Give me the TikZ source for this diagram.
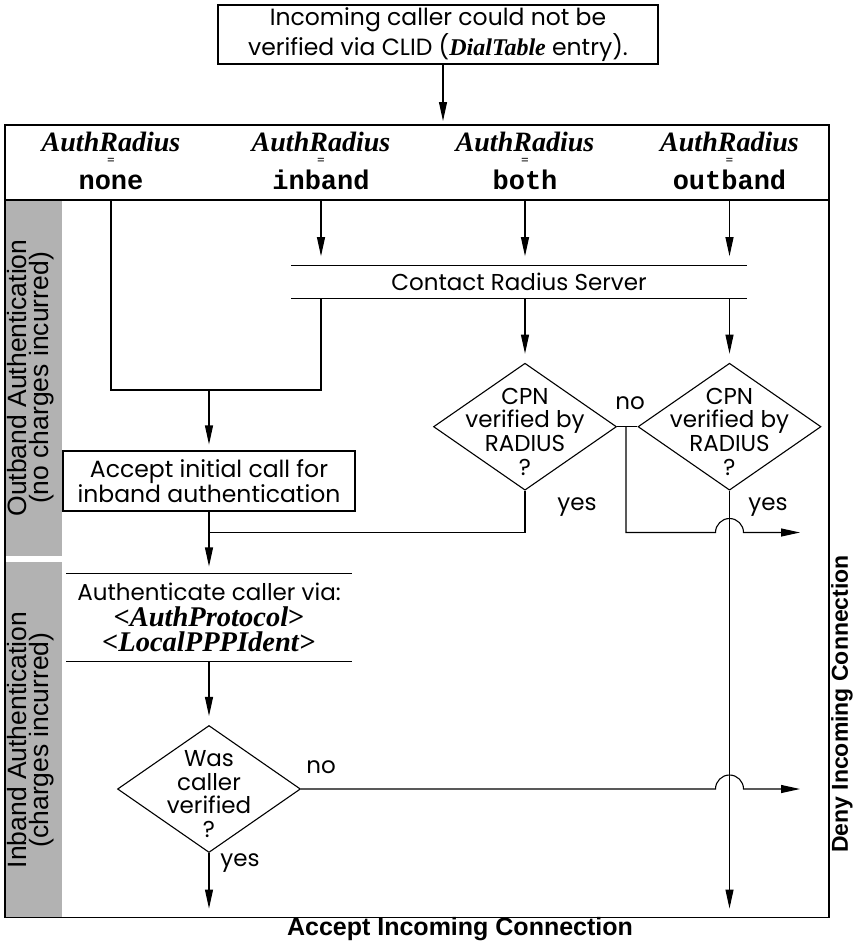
\documentclass[tikz,border=0pt]{standalone}
\usepackage{fontspec}
\setmainfont{Poppins}
\newfontfamily\helv{Liberation Sans}
\newfontfamily\tms{Liberation Serif}
\newfontfamily\cour{Liberation Mono}
\usetikzlibrary{arrows.meta,shapes.geometric,positioning}
\definecolor{barGray}{gray}{0.7}

\begin{document}
\begin{tikzpicture}[y=-1pt,x=1pt,line width=1.1pt,
	>={Triangle[length=19pt,width=8pt]},
	box/.style={draw,align=center,inner sep=0pt,font=\fontsize{23.5}{25}\selectfont},
	store/.style={align=center,inner sep=0pt,font=\fontsize{23}{25.5}\selectfont},
	decision/.style={draw,diamond,inner sep=0pt,minimum width=183pt,minimum height=127pt},
	dtext/.style={align=center,inner sep=0pt,yshift=-5pt,font=\fontsize{23}{23.7}\selectfont},
	small/.style={font=\fontsize{23}{25}\selectfont},
	arad/.style={anchor=base,font=\tms\bfseries\itshape\fontsize{28}{28}\selectfont},
	eqs/.style={inner sep=0pt,font=\fontsize{12}{12}\selectfont},
	val/.style={anchor=base,font=\cour\bfseries\fontsize{27}{27}\selectfont},
	side/.style={rotate=90,align=center,font=\helv\fontsize{26.5}{22}\selectfont},
	exit/.style={font=\helv\bfseries\fontsize{24}{28}\selectfont}]
	\newcommand\Setting[3]{%
		\node[arad] (ar#1) at (#2,151.7) {AuthRadius};
		\node[eqs] (eq#1) at (#2,161) {=};
		\node[val] (#1) at (#2,189.5) {#3};}
	\newcommand\DialT{{\tms\bfseries\itshape\fontsize{24}{24}\selectfont DialTable}}
	\newcommand\Ident[1]{{\tms\bfseries\fontsize{28.5}{28.5}\selectfont <\textit{#1}>}}

	\useasboundingbox (0,0) rectangle (858,945);

	\fill[barGray] (5,200) rectangle (62,556);
	\fill[barGray] (5,561.5) rectangle (62,917.5);
	\draw (5,125) rectangle (829,917.5);
	\coordinate (hdr) at (5,200);
	\coordinate (floor) at (5,917.5);
	\coordinate (entry) at (443,125);
	\draw (hdr) -- (829,200);

	\node[box, minimum width=440pt, minimum height=59pt] (start) at (438,34.5) {Incoming caller could not be\\verified via CLID (\DialT{} entry).};
	\draw[->, shorten >=4pt] (entry |- start.south) -- (entry);

	\Setting{sNone}{111}{none}
	\Setting{sInband}{321}{inband}
	\Setting{sBoth}{525}{both}
	\Setting{sOutband}{729.5}{outband}

	\node[store, minimum width=454pt, minimum height=32pt] (radius) at (519,281.7) {Contact Radius Server};
	\draw (radius.north west) -- (radius.north east) (radius.south west) -- (radius.south east);
	\draw[->, shorten >=9pt] (sInband |- hdr) -- (sInband |- radius.north);
	\draw[->, shorten >=9pt] (sBoth |- hdr) -- (sBoth |- radius.north);
	\draw[->, shorten >=9pt] (sOutband |- hdr) -- (sOutband |- radius.north);

	\node[decision, label={[dtext]center:CPN\\verified by\\RADIUS\\?}] (cpnA) at (525,426.7) {};
	\node[decision, label={[dtext]center:CPN\\verified by\\RADIUS\\?}] (cpnB) at (729.5,426.7) {};
	\draw[->, shorten >=9pt] (cpnA |- radius.south) -- (cpnA.north);
	\draw[->, shorten >=9pt] (cpnB |- radius.south) -- (cpnB.north);

	\coordinate (merge) at (209,390);
	\draw (sNone |- hdr) |- (merge) -| (sInband |- radius.south);

	\node[box, minimum width=292pt, minimum height=60pt] (accept) at (209,481) {Accept initial call for\\inband authentication};
	\draw[->, shorten >=6pt] (merge) -- (accept.north);

	\node[store, minimum width=284pt, minimum height=87pt] (auth) at (209,617.5) {Authenticate caller via:\\\Ident{AuthProtocol}\\\Ident{LocalPPPIdent}};
	\draw (auth.north west) -- (auth.north east) (auth.south west) -- (auth.south east);
	\coordinate (join) at (209,532.5);
	\draw[->, shorten >=7pt] (accept.south) -- (auth.north);
	\draw (cpnA.south) |- (join);

	\node[decision, label={[dtext]center:Was\\caller\\verified\\?}] (was) at (209,789) {};
	\draw[->, shorten >=9pt] (auth.south) -- (was.north);
	\draw[->, shorten >=9pt] (was.south) -- (was.south |- floor);
	\draw[->, shorten >=9pt] (cpnB.south) -- (cpnB.south |- floor);

	\coordinate (noA) at (626,426.7);
	\coordinate (denyA) at (800,532.5);
	\coordinate (denyB) at (800,789);
	\draw (cpnA.east) -- (cpnB.west);
	\draw[->] (noA) |- ([xshift=-14pt]cpnB.south |- join) arc[start angle=180,end angle=0,radius=14pt] -- (denyA);
	\draw[->] (was.east) -- ([xshift=-14pt]cpnB.south |- was) arc[start angle=180,end angle=0,radius=14pt] -- (denyB);

	\node[small] (noLblA) at (630,403) {no};
	\node[small] (yesLblA) at (577,507) {yes};
	\node[small] (yesLblB) at (768,507) {yes};
	\node[small] (noLblW) at (321,767) {no};
	\node[small] (yesLblW) at (240,863) {yes};

	\node[side] (outLbl) at (31,378) {Outband Authentication\\(no charges incurred)};
	\node[side] (inLbl) at (31,740) {Inband Authentication\\(charges incurred)};
	\node[exit, rotate=90, font=\helv\bfseries\fontsize{23}{28}\selectfont] (deny) at (842,704) {Deny Incoming Connection};
	\node[exit, font=\helv\bfseries\fontsize{25}{28}\selectfont] (acceptAll) at (460,929) {Accept Incoming Connection};
\end{tikzpicture}
\end{document}
